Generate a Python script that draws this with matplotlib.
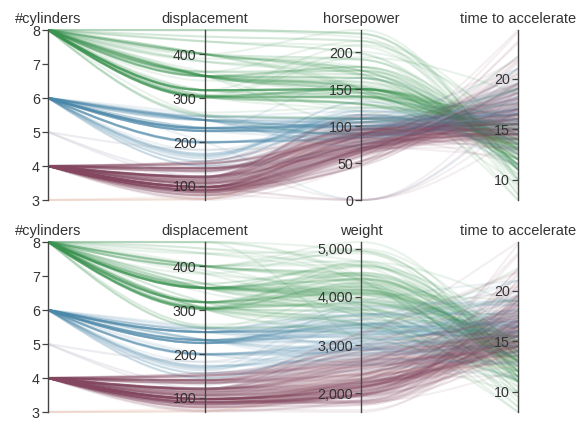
import numpy as np
import matplotlib.pyplot as plt
from matplotlib.path import Path
from matplotlib.patches import PathPatch

plt.rcParams['font.family'] = ['Liberation Sans', 'DejaVu Sans']

# cars: one entry per car, columns kept as separate lists
cylinders = [
    8, 8, 8, 8, 8, 8, 8, 8, 8, 8,  4, 8, 8, 8, 8, 8, 8, 8, 8, 8,
    4, 6, 6, 6, 4, 4, 4, 4, 4, 4,  6, 8, 8, 8, 8, 4, 4, 4, 4, 6,
    6, 6, 6, 6, 8, 8, 8, 8, 8, 8,  8, 6, 4, 6, 6, 4, 4, 4, 4, 4,
    4, 4, 4, 4, 4, 4, 4, 4, 8, 8,  8, 8, 8, 8, 8, 8, 8, 3, 8, 8,
    8, 8, 4, 4, 4, 4, 4, 4, 4, 4,  4, 8, 8, 8, 8, 8, 8, 8, 8, 8,
    8, 8, 8, 6, 6, 6, 6, 6, 4, 8,  8, 8, 8, 6, 4, 4, 4, 3, 4, 6,
    4, 8, 8, 4, 4, 4, 4, 8, 4, 6,  8, 6, 6, 6, 6, 4, 4, 4, 4, 6,
    6, 6, 8, 8, 8, 8, 8, 4, 4, 4,  4, 4, 4, 4, 4, 4, 4, 4, 6, 6,
    6, 6, 8, 8, 8, 8, 6, 6, 6, 6,  6, 8, 8, 4, 4, 6, 4, 4, 4, 4,
    6, 4, 6, 4, 4, 4, 4, 4, 4, 4,  4, 4, 4, 8, 8, 8, 8, 6, 6, 6,
    6, 4, 4, 4, 4, 6, 6, 6, 6, 4,  4, 4, 4, 4, 8, 4, 6, 6, 8, 8,
    8, 8, 4, 4, 4, 4, 4, 8, 8, 8,  8, 6, 6, 6, 6, 8, 8, 8, 8, 4,
    4, 4, 4, 4, 4, 4, 4, 6, 4, 3,  4, 4, 4, 4, 4, 8, 8, 8, 6, 6,
    6, 4, 6, 6, 6, 6, 6, 6, 8, 6,  8, 8, 4, 4, 4, 4, 4, 4, 4, 4,
    5, 6, 4, 6, 4, 4, 6, 6, 4, 6,  6, 8, 8, 8, 8, 8, 8, 8, 8, 4,
    4, 4, 4, 5, 8, 4, 8, 4, 4, 4,  4, 4, 6, 6, 4, 4, 4, 4, 4, 4,
    4, 4, 6, 4, 4, 4, 4, 4, 4, 4,  4, 4, 4, 5, 4, 4, 4, 4, 4, 6,
    3, 4, 4, 4, 4, 4, 4, 6, 4, 4,  4, 4, 4, 4, 4, 4, 4, 4, 4, 4,
    4, 4, 4, 4, 4, 4, 6, 6, 6, 6,  8, 6, 6, 4, 4, 4, 4, 4, 4, 4,
    4, 4, 4, 4, 4, 4, 4, 4, 4, 4,  4, 6, 6, 4, 6, 4, 4, 4, 4, 4,
    4, 4, 4,
]

displacement = [
    307, 350, 318, 304, 302, 429, 454, 440, 455, 390,
    133, 350, 351, 383, 360, 383, 340, 302, 400, 455,
    113, 198, 199, 200, 97, 97, 110, 107, 104, 121,
    199, 360, 307, 318, 304, 97, 140, 113, 98, 232,
    225, 250, 250, 232, 350, 400, 351, 318, 383, 400,
    400, 258, 140, 250, 250, 122, 116, 79, 88, 71,
    72, 97, 91, 113, 97.5, 97, 140, 122, 350, 400,
    318, 351, 304, 429, 350, 350, 400, 70, 304, 307,
    302, 318, 121, 121, 120, 96, 122, 97, 120, 98,
    97, 350, 304, 350, 302, 318, 429, 400, 351, 318,
    440, 455, 360, 225, 250, 232, 250, 198, 97, 400,
    400, 360, 350, 232, 97, 140, 108, 70, 122, 155,
    98, 350, 400, 68, 116, 114, 121, 318, 121, 156,
    350, 198, 200, 232, 250, 79, 122, 71, 140, 250,
    258, 225, 302, 350, 318, 302, 304, 98, 79, 97,
    76, 83, 90, 90, 116, 120, 108, 79, 225, 250,
    250, 250, 400, 350, 318, 351, 231, 250, 258, 225,
    231, 262, 302, 97, 140, 232, 140, 134, 90, 119,
    171, 90, 232, 115, 120, 121, 121, 91, 107, 116,
    140, 98, 101, 305, 318, 304, 351, 225, 250, 200,
    232, 85, 98, 90, 91, 225, 250, 250, 258, 97,
    85, 97, 140, 130, 318, 120, 156, 168, 350, 350,
    302, 318, 98, 111, 79, 122, 85, 305, 260, 318,
    302, 250, 231, 225, 250, 400, 350, 400, 351, 97,
    151, 97, 140, 98, 98, 97, 97, 146, 121, 80,
    90, 98, 78, 85, 91, 260, 318, 302, 231, 200,
    200, 140, 225, 232, 231, 200, 225, 258, 305, 231,
    302, 318, 98, 134, 119, 105, 134, 156, 151, 119,
    131, 163, 121, 163, 89, 98, 231, 200, 140, 232,
    225, 305, 302, 351, 318, 350, 351, 267, 360, 89,
    86, 98, 121, 183, 350, 141, 260, 105, 105, 85,
    91, 151, 173, 173, 151, 98, 89, 98, 86, 151,
    140, 151, 225, 97, 134, 120, 119, 108, 86, 156,
    85, 90, 90, 121, 146, 91, 85, 97, 89, 168,
    70, 122, 140, 107, 135, 151, 156, 173, 135, 79,
    86, 81, 97, 85, 89, 91, 105, 98, 98, 105,
    100, 107, 108, 119, 120, 141, 145, 168, 146, 231,
    350, 200, 225, 112, 112, 112, 112, 135, 151, 140,
    105, 91, 91, 105, 98, 120, 107, 108, 91, 91,
    91, 181, 262, 156, 232, 144, 135, 151, 140, 97,
    135, 120, 119,
]

# missing horsepower values are stored as 0
horsepower = [
    130, 165, 150, 150, 140, 198, 220, 215, 225, 190,
    115, 165, 153, 175, 175, 170, 160, 140, 150, 225,
    95, 95, 97, 85, 88, 46, 87, 90, 95, 113,
    90, 215, 200, 210, 193, 88, 90, 95, 0, 100,
    105, 100, 88, 100, 165, 175, 153, 150, 180, 170,
    175, 110, 72, 100, 88, 86, 90, 70, 76, 65,
    69, 60, 70, 95, 80, 54, 90, 86, 165, 175,
    150, 153, 150, 208, 155, 160, 190, 97, 150, 130,
    140, 150, 112, 76, 87, 69, 86, 92, 97, 80,
    88, 175, 150, 145, 137, 150, 198, 150, 158, 150,
    215, 225, 175, 105, 100, 100, 88, 95, 46, 150,
    167, 170, 180, 100, 88, 72, 94, 90, 85, 107,
    90, 145, 230, 49, 75, 91, 112, 150, 110, 122,
    180, 95, 0, 100, 100, 67, 80, 65, 75, 100,
    110, 105, 140, 150, 150, 140, 150, 83, 67, 78,
    52, 61, 75, 75, 75, 97, 93, 67, 95, 105,
    72, 72, 170, 145, 150, 148, 110, 105, 110, 95,
    110, 110, 129, 75, 83, 100, 78, 96, 71, 97,
    97, 70, 90, 95, 88, 98, 115, 53, 86, 81,
    92, 79, 83, 140, 150, 120, 152, 100, 105, 81,
    90, 52, 60, 70, 53, 100, 78, 110, 95, 71,
    70, 75, 72, 102, 150, 88, 108, 120, 180, 145,
    130, 150, 68, 80, 58, 96, 70, 145, 110, 145,
    130, 110, 105, 100, 98, 180, 170, 190, 149, 78,
    88, 75, 89, 63, 83, 67, 78, 97, 110, 110,
    48, 66, 52, 70, 60, 110, 140, 139, 105, 95,
    85, 88, 100, 90, 105, 85, 110, 120, 145, 165,
    139, 140, 68, 95, 97, 75, 95, 105, 85, 97,
    103, 125, 115, 133, 71, 68, 115, 85, 88, 90,
    110, 130, 129, 138, 135, 155, 142, 125, 150, 71,
    65, 80, 80, 77, 125, 71, 90, 70, 70, 65,
    69, 90, 115, 115, 90, 76, 60, 70, 65, 90,
    88, 90, 90, 78, 90, 75, 92, 75, 65, 105,
    65, 48, 48, 67, 67, 67, 0, 67, 62, 132,
    100, 88, 0, 72, 84, 84, 92, 110, 84, 58,
    64, 60, 67, 65, 62, 68, 63, 65, 65, 74,
    0, 75, 75, 100, 74, 80, 76, 116, 120, 110,
    105, 88, 85, 88, 88, 88, 85, 84, 90, 92,
    74, 68, 68, 63, 70, 88, 75, 70, 67, 67,
    67, 110, 85, 92, 112, 96, 84, 90, 86, 52,
    84, 79, 82,
]

weight = [
    3504, 3693, 3436, 3433, 3449, 4341, 4354, 4312, 4425, 3850,
    3090, 4142, 4034, 4166, 3850, 3563, 3609, 3353, 3761, 3086,
    2372, 2833, 2774, 2587, 2130, 1835, 2672, 2430, 2375, 2234,
    2648, 4615, 4376, 4382, 4732, 2130, 2264, 2228, 2046, 2634,
    3439, 3329, 3302, 3288, 4209, 4464, 4154, 4096, 4955, 4746,
    5140, 2962, 2408, 3282, 3139, 2220, 2123, 2074, 2065, 1773,
    1613, 1834, 1955, 2278, 2126, 2254, 2408, 2226, 4274, 4385,
    4135, 4129, 3672, 4633, 4502, 4456, 4422, 2330, 3892, 4098,
    4294, 4077, 2933, 2511, 2979, 2189, 2395, 2288, 2506, 2164,
    2100, 4100, 3672, 3988, 4042, 3777, 4952, 4464, 4363, 4237,
    4735, 4951, 3821, 3121, 3278, 2945, 3021, 2904, 1950, 4997,
    4906, 4654, 4499, 2789, 2279, 2401, 2379, 2124, 2310, 2472,
    2265, 4082, 4278, 1867, 2158, 2582, 2868, 3399, 2660, 2807,
    3664, 3102, 2875, 2901, 3336, 1950, 2451, 1836, 2542, 3781,
    3632, 3613, 4141, 4699, 4457, 4638, 4257, 2219, 1963, 2300,
    1649, 2003, 2125, 2108, 2246, 2489, 2391, 2000, 3264, 3459,
    3432, 3158, 4668, 4440, 4498, 4657, 3907, 3897, 3730, 3785,
    3039, 3221, 3169, 2171, 2639, 2914, 2592, 2702, 2223, 2545,
    2984, 1937, 3211, 2694, 2957, 2945, 2671, 1795, 2464, 2220,
    2572, 2255, 2202, 4215, 4190, 3962, 4215, 3233, 3353, 3012,
    3085, 2035, 2164, 1937, 1795, 3651, 3574, 3645, 3193, 1825,
    1990, 2155, 2565, 3150, 3940, 3270, 2930, 3820, 4380, 4055,
    3870, 3755, 2045, 2155, 1825, 2300, 1945, 3880, 4060, 4140,
    4295, 3520, 3425, 3630, 3525, 4220, 4165, 4325, 4335, 1940,
    2740, 2265, 2755, 2051, 2075, 1985, 2190, 2815, 2600, 2720,
    1985, 1800, 1985, 2070, 1800, 3365, 3735, 3570, 3535, 3155,
    2965, 2720, 3430, 3210, 3380, 3070, 3620, 3410, 3425, 3445,
    3205, 4080, 2155, 2560, 2300, 2230, 2515, 2745, 2855, 2405,
    2830, 3140, 2795, 3410, 1990, 2135, 3245, 2990, 2890, 3265,
    3360, 3840, 3725, 3955, 3830, 4360, 4054, 3605, 3940, 1925,
    1975, 1915, 2670, 3530, 3900, 3190, 3420, 2200, 2150, 2020,
    2130, 2670, 2595, 2700, 2556, 2144, 1968, 2120, 2019, 2678,
    2870, 3003, 3381, 2188, 2711, 2542, 2434, 2265, 2110, 2800,
    2110, 2085, 2335, 2950, 3250, 1850, 1835, 2145, 1845, 2910,
    2420, 2500, 2905, 2290, 2490, 2635, 2620, 2725, 2385, 1755,
    1875, 1760, 2065, 1975, 2050, 1985, 2215, 2045, 2380, 2190,
    2320, 2210, 2350, 2615, 2635, 3230, 3160, 2900, 2930, 3415,
    3725, 3060, 3465, 2605, 2640, 2395, 2575, 2525, 2735, 2865,
    1980, 2025, 1970, 2125, 2125, 2160, 2205, 2245, 1965, 1965,
    1995, 2945, 3015, 2585, 2835, 2665, 2370, 2950, 2790, 2130,
    2295, 2625, 2720,
]

acceleration = [
    12.0, 11.5, 11.0, 12.0, 10.5, 10.0, 9.0, 8.5, 10.0, 8.5,
    17.5, 11.5, 11.0, 10.5, 11.0, 10.0, 8.0, 8.0, 9.5, 10.0,
    15.0, 15.5, 15.5, 16.0, 14.5, 20.5, 17.5, 14.5, 17.5, 12.5,
    15.0, 14.0, 15.0, 13.5, 18.5, 14.5, 15.5, 14.0, 19.0, 13.0,
    15.5, 15.5, 15.5, 15.5, 12.0, 11.5, 13.5, 13.0, 11.5, 12.0,
    12.0, 13.5, 19.0, 15.0, 14.5, 14.0, 14.0, 19.5, 14.5, 19.0,
    18.0, 19.0, 20.5, 15.5, 17.0, 23.5, 19.5, 16.5, 12.0, 12.0,
    13.5, 13.0, 11.5, 11.0, 13.5, 13.5, 12.5, 13.5, 12.5, 14.0,
    16.0, 14.0, 14.5, 18.0, 19.5, 18.0, 16.0, 17.0, 14.5, 15.0,
    16.5, 13.0, 11.5, 13.0, 14.5, 12.5, 11.5, 12.0, 13.0, 14.5,
    11.0, 11.0, 11.0, 16.5, 18.0, 16.0, 16.5, 16.0, 21.0, 14.0,
    12.5, 13.0, 12.5, 15.0, 19.0, 19.5, 16.5, 13.5, 18.5, 14.0,
    15.5, 13.0, 9.5, 19.5, 15.5, 14.0, 15.5, 11.0, 14.0, 13.5,
    11.0, 16.5, 17.0, 16.0, 17.0, 19.0, 16.5, 21.0, 17.0, 17.0,
    18.0, 16.5, 14.0, 14.5, 13.5, 16.0, 15.5, 16.5, 15.5, 14.5,
    16.5, 19.0, 14.5, 15.5, 14.0, 15.0, 15.5, 16.0, 16.0, 16.0,
    21.0, 19.5, 11.5, 14.0, 14.5, 13.5, 21.0, 18.5, 19.0, 19.0,
    15.0, 13.5, 12.0, 16.0, 17.0, 16.0, 18.5, 13.5, 16.5, 17.0,
    14.5, 14.0, 17.0, 15.0, 17.0, 14.5, 13.5, 17.5, 15.5, 16.9,
    14.9, 17.7, 15.3, 13.0, 13.0, 13.9, 12.8, 15.4, 14.5, 17.6,
    17.6, 22.2, 22.1, 14.2, 17.4, 17.7, 21.0, 16.2, 17.8, 12.2,
    17.0, 16.4, 13.6, 15.7, 13.2, 21.9, 15.5, 16.7, 12.1, 12.0,
    15.0, 14.0, 18.5, 14.8, 18.6, 15.5, 16.8, 12.5, 19.0, 13.7,
    14.9, 16.4, 16.9, 17.7, 19.0, 11.1, 11.4, 12.2, 14.5, 14.5,
    16.0, 18.2, 15.8, 17.0, 15.9, 16.4, 14.1, 14.5, 12.8, 13.5,
    21.5, 14.4, 19.4, 18.6, 16.4, 15.5, 13.2, 12.8, 19.2, 18.2,
    15.8, 15.4, 17.2, 17.2, 15.8, 16.7, 18.7, 15.1, 13.2, 13.4,
    11.2, 13.7, 16.5, 14.2, 14.7, 14.5, 14.8, 16.7, 17.6, 14.9,
    15.9, 13.6, 15.7, 15.8, 14.9, 16.6, 15.4, 18.2, 17.3, 18.2,
    16.6, 15.4, 13.4, 13.2, 15.2, 14.9, 14.3, 15.0, 13.0, 14.0,
    15.2, 14.4, 15.0, 20.1, 17.4, 24.8, 22.2, 13.2, 14.9, 19.2,
    14.7, 16.0, 11.3, 12.9, 13.2, 14.7, 18.8, 15.5, 16.4, 16.5,
    18.1, 20.1, 18.7, 15.8, 15.5, 17.5, 15.0, 15.2, 17.9, 14.4,
    19.2, 21.7, 23.7, 19.9, 21.8, 13.8, 17.3, 18.0, 15.3, 11.4,
    12.5, 15.1, 14.3, 17.0, 15.7, 16.4, 14.4, 12.6, 12.9, 16.9,
    16.4, 16.1, 17.8, 19.4, 17.3, 16.0, 14.9, 16.2, 20.7, 14.2,
    15.8, 14.4, 16.8, 14.8, 18.3, 20.4, 19.6, 12.6, 13.8, 15.8,
    19.0, 17.1, 16.6, 19.6, 18.6, 18.0, 16.2, 16.0, 18.0, 16.4,
    15.3, 18.2, 17.6, 14.7, 17.3, 14.5, 14.5, 16.9, 15.0, 15.7,
    16.2, 16.4, 17.0, 14.5, 14.7, 13.9, 13.0, 17.3, 15.6, 24.6,
    11.6, 18.6, 19.4,
]

cyl_colors = {8: '#3a9450', 6: '#4a88aa', 4: '#84475f', 5: '#b8b8c8', 3: '#e0ad98'}
cyl_alpha = {8: 0.11, 6: 0.11, 4: 0.085, 5: 0.25, 3: 0.14}

cyl_ticks = [3, 4, 5, 6, 7, 8]
disp_ticks = [100, 200, 300, 400]
hp_ticks = [0, 50, 100, 150, 200]
weight_ticks = [2000, 3000, 4000, 5000]
accel_ticks = [10, 15, 20]

panels = [
    [('#cylinders', cylinders, cyl_ticks),
     ('displacement', displacement, disp_ticks),
     ('horsepower', horsepower, hp_ticks),
     ('time to accelerate', acceleration, accel_ticks)],
    [('#cylinders', cylinders, cyl_ticks),
     ('displacement', displacement, disp_ticks),
     ('weight', weight, weight_ticks),
     ('time to accelerate', acceleration, accel_ticks)],
]


def monotone_slopes(ys):
    # tangents as in d3.curveMonotoneX, unit spacing between axes
    n = len(ys)
    s = np.diff(ys)
    t = np.zeros(n)
    sgn = lambda v: -1.0 if v < 0 else 1.0
    for i in range(1, n - 1):
        s0, s1 = s[i - 1], s[i]
        p = (s0 + s1) / 2
        t[i] = (sgn(s0) + sgn(s1)) * min(abs(s0), abs(s1), 0.5 * abs(p))
    t[0] = (3 * s[0] - t[1]) / 2
    t[-1] = (3 * s[-1] - t[-2]) / 2
    return t


def curve_path(ys):
    t = monotone_slopes(ys)
    verts = [(0, ys[0])]
    codes = [Path.MOVETO]
    for i in range(len(ys) - 1):
        verts += [(i + 1 / 3, ys[i] + t[i] / 3),
                  (i + 2 / 3, ys[i + 1] - t[i + 1] / 3),
                  (i + 1, ys[i + 1])]
        codes += [Path.CURVE4] * 3
    return Path(verts, codes)


fig = plt.figure(figsize=(5.87, 4.21), dpi=100)

left, width = 48.3 / 587, (518 - 48.3) / 587
panel_boxes = [((421 - 200) / 421, 170 / 421), ((421 - 412) / 421, 170 / 421)]

for dims, (bottom, height) in zip(panels, panel_boxes):
    lines_ax = fig.add_axes([left, bottom, width, height])
    lines_ax.set_xlim(0, 3)
    lines_ax.set_ylim(0, 1)
    lines_ax.axis('off')

    cols = [np.asarray(d[1], float) for d in dims]
    lims = [(c.min(), c.max()) for c in cols]
    norm = np.array([(c - lo) / (hi - lo) for c, (lo, hi) in zip(cols, lims)]).T

    for cyl, ys in zip(cylinders, norm):
        patch = PathPatch(curve_path(ys), facecolor='none',
                          edgecolor=cyl_colors[cyl], lw=1.5,
                          alpha=cyl_alpha[cyl], clip_on=False)
        lines_ax.add_patch(patch)

    for i, ((name, col, ticks), (lo, hi)) in enumerate(zip(dims, lims)):
        x = left + i * width / 3
        ax = fig.add_axes([x, bottom, 0.0001, height], zorder=5)
        ax.patch.set_visible(False)
        ax.set_ylim(lo, hi)
        ax.set_xticks([])
        for side in ('top', 'right', 'bottom'):
            ax.spines[side].set_visible(False)
        ax.spines['left'].set_color('#444444')
        ax.spines['left'].set_linewidth(1.0)
        ax.set_yticks(ticks)
        if name == 'weight':
            ax.set_yticklabels(['{:,}'.format(v) for v in ticks])
        ax.tick_params(axis='y', length=4.5, width=0.9, color='#444444',
                       labelsize=10.3, labelcolor='#333333', pad=1.5)
        ax.set_title(name, fontsize=10.5, color='#333333', pad=5)

fig.savefig('out.png', dpi=100)
